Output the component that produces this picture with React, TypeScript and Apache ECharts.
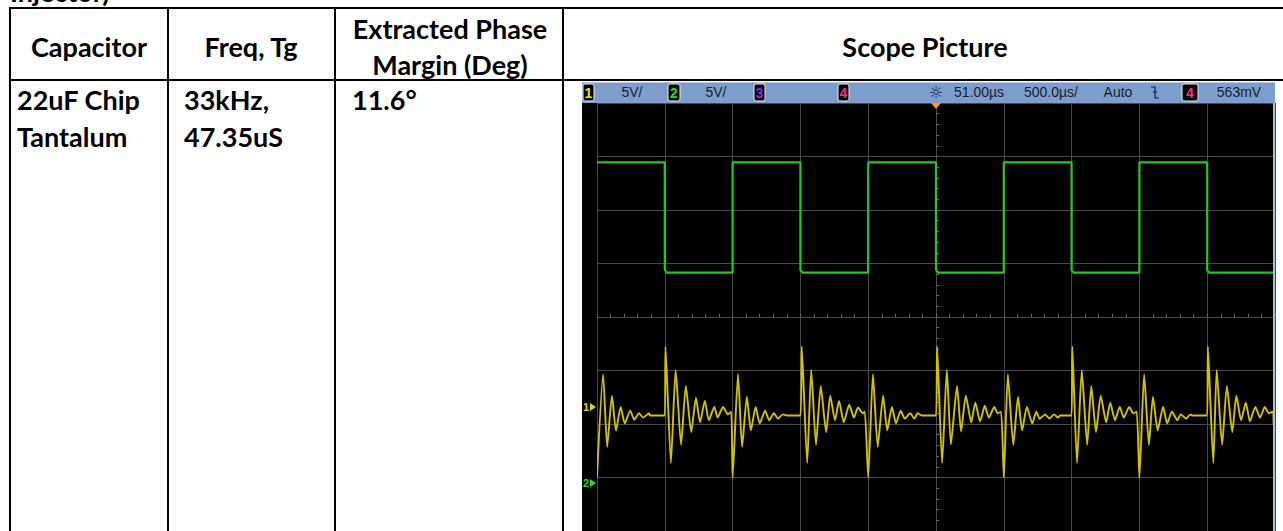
import React, { useEffect, useRef } from 'react';
import * as echarts from 'echarts';

// ---- table content ----
const topNote = 'Injector)';
const headerTitles = ['Capacitor', 'Freq, Tg', 'Extracted Phase', 'Margin (Deg)', 'Scope Picture'];
const capacitorLines = ['22uF Chip', 'Tantalum'];
const freqLines = ['33kHz,', '47.35uS'];
const phaseLines = ['11.6°'];

// ---- scope status bar ----
const channelBadges = ['1', '2', '3', '4'];
const channelScales = ['5V/', '5V/'];
const triggerDelay = '51.00µs';
const timeScale = '500.0µs/';
const triggerMode = 'Auto';
const triggerSource = '4';
const triggerLevel = '563mV';

// ---- scope axes (time in µs, vertical in divisions) ----
const timeMin = -2500;
const timeMax = 2500;
const timeStep = 500;
const divMin = -4;
const divMax = 4;

// channel 2 (green square wave): [µs, div]
const ch2Square = [
  [-2500, 2.89], [-2000, 2.89], [-2000, 0.88], [-1985, 0.83], [-1500, 0.83], [-1500, 2.89],
  [-1000, 2.89], [-1000, 0.88], [-985, 0.83], [-500, 0.83], [-500, 2.89],
  [0, 2.89], [0, 0.88], [15, 0.83], [500, 0.83], [500, 2.89],
  [1000, 2.89], [1000, 0.88], [1015, 0.83], [1500, 0.83], [1500, 2.89],
  [2000, 2.89], [2000, 0.88], [2015, 0.83], [2500, 0.83],
];

// channel 1 (yellow ringing): [µs, div]
const ch1Ringing = [
  [-2500, -3.0], [-2455, -1.07], [-2425, -2.43], [-2390, -1.47], [-2360, -2.12], [-2325, -1.68], [-2295, -1.99],
  [-2255, -1.75], [-2225, -1.92], [-2190, -1.8], [-2160, -1.88], [-2115, -1.8], [-2110, -1.84], [-2000, -1.84],
  [-1995, -0.55], [-1955, -2.73], [-1920, -0.99], [-1880, -2.39], [-1845, -1.29], [-1805, -2.15], [-1770, -1.51],
  [-1740, -1.97], [-1705, -1.57], [-1675, -1.93], [-1635, -1.68], [-1610, -1.88], [-1570, -1.68], [-1535, -1.82], [-1510, -1.77],
  [-1500, -3.0], [-1460, -1.07], [-1430, -2.43], [-1395, -1.49], [-1365, -2.12], [-1330, -1.68], [-1300, -1.99],
  [-1260, -1.75], [-1230, -1.93], [-1195, -1.8], [-1165, -1.9], [-1130, -1.82], [-1100, -1.84], [-1000, -1.84],
  [-990, -0.55], [-950, -2.73], [-920, -0.99], [-885, -2.39], [-850, -1.29], [-810, -2.15], [-780, -1.47],
  [-745, -1.93], [-715, -1.57], [-680, -1.97], [-640, -1.64], [-605, -1.88], [-575, -1.69], [-540, -1.8], [-525, -1.77],
  [-500, -3.0], [-465, -1.07], [-430, -2.43], [-390, -1.47], [-360, -2.12], [-325, -1.68], [-295, -1.99],
  [-260, -1.75], [-230, -1.9], [-190, -1.8], [-160, -1.9], [-135, -1.8], [-105, -1.84], [0, -1.84],
  [8, -0.55], [45, -2.73], [80, -0.99], [110, -2.38], [155, -1.29], [185, -2.14], [220, -1.47],
  [260, -1.97], [290, -1.6], [325, -1.95], [360, -1.66], [390, -1.88], [430, -1.68], [455, -1.8], [480, -1.77],
  [500, -3.0], [530, -1.07], [570, -2.39], [605, -1.49], [635, -2.12], [670, -1.68], [710, -1.99],
  [740, -1.77], [765, -1.9], [805, -1.82], [835, -1.9], [870, -1.82], [900, -1.88], [915, -1.84], [1000, -1.84],
  [1005, -0.55], [1040, -2.73], [1075, -0.99], [1115, -2.39], [1145, -1.29], [1180, -2.15], [1215, -1.47],
  [1255, -1.97], [1285, -1.6], [1320, -1.93], [1355, -1.68], [1385, -1.88], [1425, -1.68], [1455, -1.8], [1480, -1.77],
  [1500, -3.0], [1535, -1.07], [1570, -2.39], [1600, -1.49], [1635, -2.12], [1675, -1.68], [1705, -1.99],
  [1740, -1.77], [1780, -1.93], [1805, -1.82], [1845, -1.9], [1875, -1.82], [1890, -1.84], [2000, -1.84],
  [2005, -0.55], [2045, -2.73], [2070, -0.99], [2110, -2.39], [2145, -1.29], [2185, -2.15], [2215, -1.47],
  [2250, -1.93], [2285, -1.6], [2315, -1.95], [2355, -1.68], [2390, -1.88], [2425, -1.68], [2455, -1.8], [2485, -1.77], [2490, -2.01],
];

const TABLE_FONT = 'Lato, "Open Sans", sans-serif';
const BAR_FONT = '"Liberation Sans", Arial, sans-serif';

function txt(text: string, x: number, y: number, style: any) {
  return {
    type: 'text',
    x,
    y,
    z: 30,
    style: {
      text,
      fill: style.fill || '#000',
      font: style.font,
      align: style.align || 'left',
      textAlign: style.align || 'left',
      verticalAlign: style.valign || 'middle',
      textVerticalAlign: style.valign || 'middle',
    },
  };
}

function hline(x1: number, x2: number, y: number, w = 2) {
  return { type: 'line', z: 20, shape: { x1, y1: y, x2, y2: y }, style: { stroke: '#000', lineWidth: w } };
}
function vline(x: number, y1: number, y2: number, w = 2) {
  return { type: 'line', z: 20, shape: { x1: x, y1, x2: x, y2 }, style: { stroke: '#000', lineWidth: w } };
}

function badge(label: string, x: number, w: number, color: string) {
  return [
    {
      type: 'rect',
      z: 21,
      shape: { x, y: 84, width: w, height: 17, r: 2 },
      style: { fill: '#000', stroke: '#e8eef8', lineWidth: 1 },
    },
    txt(label, x + w / 2, 93, { fill: color, font: `bold 14px ${BAR_FONT}`, align: 'center' }),
  ];
}

export default function App() {
  const ref = useRef<HTMLDivElement>(null);

  useEffect(() => {
    if (!ref.current) return;
    const chart = echarts.init(ref.current, null, { renderer: 'svg' });
    const headFont = `bold 27px ${TABLE_FONT}`;
    const barText = `14px ${BAR_FONT}`;
    const barColor = '#1a1d2e';

    const graphic: any[] = [
      // partial caption above the table
      txt(topNote, 10, 5, { font: headFont, valign: 'bottom' }),
      // scope picture frame
      { type: 'rect', z: 5, shape: { x: 582, y: 103, width: 15, height: 440 }, style: { fill: '#000' } },
      { type: 'rect', z: 5, shape: { x: 582, y: 82, width: 693, height: 21 }, style: { fill: '#7d9dcd' } },
      { type: 'line', z: 6, shape: { x1: 582, y1: 82.5, x2: 1275, y2: 82.5 }, style: { stroke: '#b9cbe6', lineWidth: 1 } },
      { type: 'line', z: 6, shape: { x1: 1274, y1: 103, x2: 1274, y2: 531 }, style: { stroke: '#9fc0e0', lineWidth: 2 } },
      // table lines
      hline(9, 1283, 8),
      hline(9, 1283, 80),
      vline(10, 7, 531),
      vline(168, 7, 531),
      vline(335, 7, 531),
      vline(563, 7, 531),
      // header texts
      txt(headerTitles[0], 89, 46, { font: headFont, align: 'center' }),
      txt(headerTitles[1], 251, 46, { font: headFont, align: 'center' }),
      txt(headerTitles[2], 450, 28, { font: headFont, align: 'center' }),
      txt(headerTitles[3], 450, 64, { font: headFont, align: 'center' }),
      txt(headerTitles[4], 925, 46, { font: headFont, align: 'center' }),
      // body texts
      txt(capacitorLines[0], 17, 99, { font: headFont }),
      txt(capacitorLines[1], 17, 136, { font: headFont }),
      txt(freqLines[0], 184, 99, { font: headFont }),
      txt(freqLines[1], 184, 136, { font: headFont }),
      txt(phaseLines[0], 352, 99, { font: headFont }),
      // status bar
      ...badge(channelBadges[0], 583, 11, '#f0e600'),
      txt(channelScales[0], 632, 92, { font: barText, align: 'center', fill: barColor }),
      ...badge(channelBadges[1], 668, 12, '#22e022'),
      txt(channelScales[1], 716, 92, { font: barText, align: 'center', fill: barColor }),
      ...badge(channelBadges[2], 754, 11, '#a020f0'),
      ...badge(channelBadges[3], 838, 11, '#ff2a86'),
      txt('☼', 936, 92, { font: `16px "DejaVu Sans", sans-serif`, align: 'center', fill: barColor }),
      txt(triggerDelay, 979, 92, { font: barText, align: 'center', fill: barColor }),
      txt(timeScale, 1051, 92, { font: barText, align: 'center', fill: barColor }),
      txt(triggerMode, 1118, 92, { font: barText, align: 'center', fill: barColor }),
      {
        type: 'polyline',
        z: 21,
        shape: { points: [[1151, 87], [1155, 87], [1155, 98], [1159, 98]] },
        style: { stroke: barColor, lineWidth: 1.2, fill: 'none' },
      },
      { type: 'line', z: 21, shape: { x1: 1153, y1: 92, x2: 1157, y2: 92 }, style: { stroke: barColor, lineWidth: 1 } },
      ...badge(triggerSource, 1182, 16, '#ff2a86'),
      txt(triggerLevel, 1239, 92, { font: barText, align: 'center', fill: barColor }),
      // trigger position marker
      { type: 'polygon', z: 22, shape: { points: [[931, 103], [941, 103], [936, 109]] }, style: { fill: '#f39a1e' } },
      // channel ground markers
      txt('1', 583, 407, { font: `bold 11px ${BAR_FONT}`, fill: '#e0d400' }),
      { type: 'polygon', z: 22, shape: { points: [[590, 403], [596, 407], [590, 411]] }, style: { fill: '#e0d400' } },
      txt('2', 583, 483, { font: `bold 11px ${BAR_FONT}`, fill: '#22dd22' }),
      { type: 'polygon', z: 22, shape: { points: [[590, 479], [596, 483], [590, 487]] }, style: { fill: '#22dd22' } },
    ];

    const gridColor = '#4a4a4a';

    chart.setOption({
      animation: false,
      backgroundColor: '#ffffff',
      grid: {
        left: 597,
        top: 103,
        width: 678,
        height: 434,
        show: true,
        backgroundColor: '#000',
        borderWidth: 0,
        containLabel: false,
      },
      xAxis: {
        type: 'value',
        min: timeMin,
        max: timeMax,
        interval: timeStep,
        axisLabel: { show: false },
        axisLine: { show: true, onZero: true, lineStyle: { color: gridColor, width: 1 } },
        axisTick: { show: true, inside: true, length: 3, lineStyle: { color: '#6a6a6a' } },
        minorTick: { show: true, splitNumber: 5, length: 3, lineStyle: { color: '#6a6a6a' } },
        splitLine: { show: true, lineStyle: { color: gridColor, width: 1 } },
      },
      yAxis: {
        type: 'value',
        min: divMin,
        max: divMax,
        interval: 1,
        axisLabel: { show: false },
        axisLine: { show: true, onZero: true, lineStyle: { color: gridColor, width: 1 } },
        axisTick: { show: true, inside: true, length: 3, lineStyle: { color: '#6a6a6a' } },
        minorTick: { show: true, splitNumber: 5, length: 3, lineStyle: { color: '#6a6a6a' } },
        splitLine: { show: true, lineStyle: { color: gridColor, width: 1 } },
      },
      series: [
        {
          type: 'line',
          name: 'Ch2',
          data: ch2Square,
          showSymbol: false,
          symbol: 'none',
          lineStyle: { color: '#27c81d', width: 2.2 },
          z: 3,
        },
        {
          type: 'line',
          name: 'Ch1',
          data: ch1Ringing,
          showSymbol: false,
          symbol: 'none',
          smooth: 0.2,
          lineStyle: { color: '#d2c300', width: 1.9 },
          z: 4,
        },
      ],
      graphic,
    });

    return () => {
      chart.dispose();
    };
  }, []);

  return (
    <div
      ref={ref}
      style={{ position: 'fixed', left: 0, top: 0, width: 1283, height: 531 }}
    />
  );
}
